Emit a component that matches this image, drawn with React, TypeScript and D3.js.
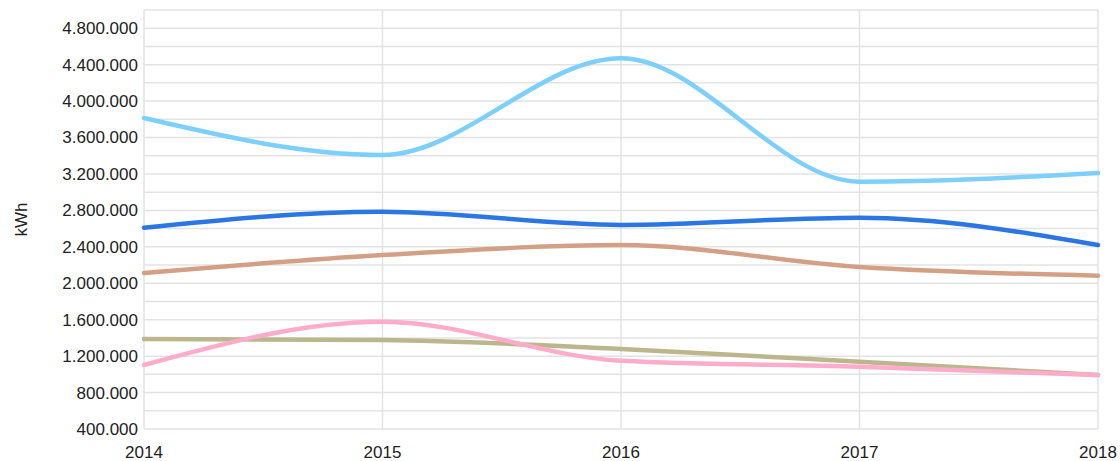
import * as d3 from 'd3'

const years = [2014, 2015, 2016, 2017, 2018]

const lightBlue = [3814000, 3408000, 4470000, 3115000, 3210000]
const darkBlue = [2610000, 2786000, 2640000, 2720000, 2420000]
const brown = [2113000, 2310000, 2420000, 2178000, 2083000]
const pink = [1103000, 1578000, 1150000, 1084000, 993000]
const olive = [1388000, 1377000, 1278000, 1139000, 993000]

const yTicks = [400000, 800000, 1200000, 1600000, 2000000, 2400000, 2800000, 3200000, 3600000, 4000000, 4400000, 4800000]

const series = [
  { name: 'lightBlue', values: lightBlue, color: '#7dcffd' },
  { name: 'darkBlue', values: darkBlue, color: '#2b76e2' },
  { name: 'brown', values: brown, color: '#d3a086' },
  { name: 'olive', values: olive, color: '#bbb68c' },
  { name: 'pink', values: pink, color: '#ffacca' },
]

export default function App() {
  const width = 1120,
    height = 461
  const margin = { top: 10, right: 22, bottom: 32, left: 144 }

  const x = d3
    .scaleLinear()
    .domain([2014, 2018])
    .range([margin.left, width - margin.right])
  const y = d3
    .scaleLinear()
    .domain([400000, 5000000])
    .range([height - margin.bottom, margin.top])

  const minorTicks = d3.range(400000, 5000001, 200000)
  const fmt = (v: number) => d3.format(',')(v).replace(/,/g, '.')

  const line = d3
    .line<number>()
    .x((_, i) => x(years[i]))
    .y((d) => y(d))
    .curve(d3.curveMonotoneX)

  return (
    <svg
      width={width}
      height={height}
      style={{ position: 'absolute', left: 0, top: 0, fontFamily: 'Arial, "Liberation Sans", sans-serif' }}
    >
      <rect width={width} height={height} fill="#fff" />
      <g stroke="#e3e3e3" strokeWidth={1.5}>
        {minorTicks.map((t) => (
          <line key={t} x1={x(2014)} x2={x(2018)} y1={y(t)} y2={y(t)} />
        ))}
        {years.map((yr) => (
          <line key={yr} x1={x(yr)} x2={x(yr)} y1={y(5000000)} y2={y(400000)} />
        ))}
      </g>
      {series.map((s) => (
        <path
          key={s.name}
          d={line(s.values) ?? ''}
          fill="none"
          stroke={s.color}
          strokeWidth={4.5}
          strokeLinecap="round"
        />
      ))}
      <g fontSize={17} fill="#222" textAnchor="end">
        {yTicks.map((t) => (
          <text key={t} x={margin.left - 6} y={y(t)} dy="0.35em">
            {fmt(t)}
          </text>
        ))}
      </g>
      <g fontSize={17} fill="#222" textAnchor="middle">
        {years.map((yr) => (
          <text key={yr} x={x(yr)} y={height - 3}>
            {yr}
          </text>
        ))}
      </g>
      <text
        transform={`translate(27,${(margin.top + height - margin.bottom) / 2}) rotate(-90)`}
        textAnchor="middle"
        fontSize={17}
        fill="#222"
      >
        kWh
      </text>
    </svg>
  )
}
